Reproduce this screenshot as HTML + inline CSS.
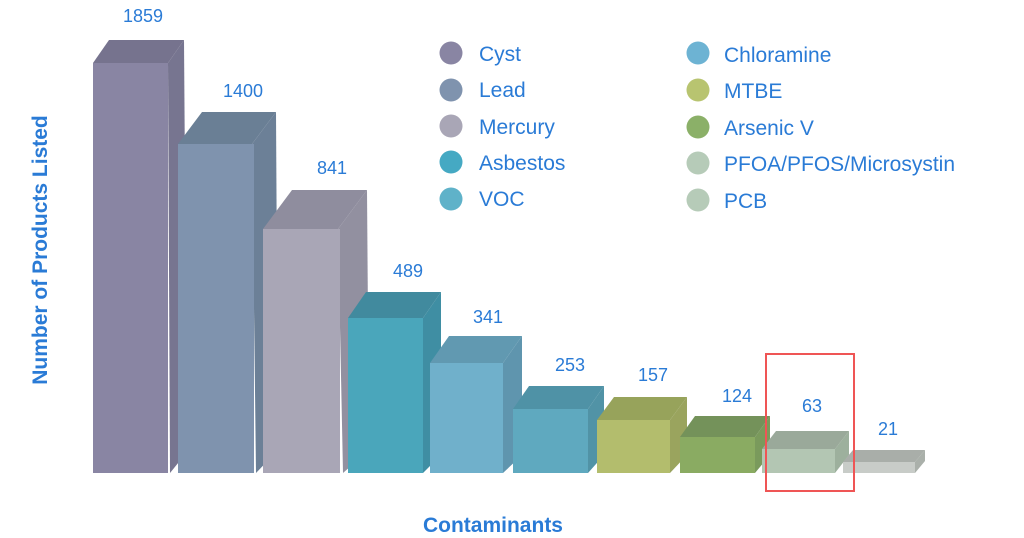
<!DOCTYPE html>
<html><head><style>body{margin:0;background:#fff}svg{display:block}text{font-family:"Liberation Sans",sans-serif;fill:#2a7bd6}</style></head><body>
<svg width="1024" height="538" viewBox="0 0 1024 538">
<g id="bars">
<polygon points="168,63 184,40 187,452 170,473" fill="#777590"/><polygon points="93,63 109,40 184,40 168,63" fill="#76738e"/><rect x="93" y="63" width="75" height="410" fill="#8985a3"/>
<polygon points="252,144 276,112 278,450 256,473" fill="#6c8097"/><polygon points="178,144 202,112 276,112 252,144" fill="#6a7f95"/><rect x="178" y="144" width="76" height="329" fill="#7f93ae"/>
<polygon points="338,229 367,190 369,450 343,473" fill="#9290a0"/><polygon points="263,229 292,190 367,190 338,229" fill="#8f8d9e"/><rect x="263" y="229" width="77" height="244" fill="#a9a6b6"/>
<polygon points="423,318 441,292 441,455 423,473" fill="#3f8ea3"/><polygon points="348,318 366,292 441,292 423,318" fill="#418a9e"/><rect x="348" y="318" width="75" height="155" fill="#4aa6bb"/>
<polygon points="503,363 522,336 522,455 503,473" fill="#5f95ae"/><polygon points="430,363 449,336 522,336 503,363" fill="#6199b1"/><rect x="430" y="363" width="73" height="110" fill="#70b0cb"/>
<polygon points="588,409 604,386 604,455 588,473" fill="#5193a6"/><polygon points="513,409 529,386 604,386 588,409" fill="#4f92a6"/><rect x="513" y="409" width="75" height="64" fill="#5fa9bf"/>
<polygon points="670,420 687,397 687,455 670,473" fill="#9aa45e"/><polygon points="597,420 614,397 687,397 670,420" fill="#97a35b"/><rect x="597" y="420" width="73" height="53" fill="#b3bd6d"/>
<polygon points="755,437 770,416 770,455 755,473" fill="#7a9a5c"/><polygon points="680,437 695,416 770,416 755,437" fill="#74925a"/><rect x="680" y="437" width="75" height="36" fill="#8aab62"/>
<polygon points="835,449 849,431 849,455 835,473" fill="#9db09d"/><polygon points="762,449 776,431 849,431 835,449" fill="#9aa99a"/><rect x="762" y="449" width="73" height="24" fill="#b3c6b3"/>
<polygon points="915,462 925,450 925,461 915,473" fill="#aab0aa"/><polygon points="843,462 853,450 925,450 915,462" fill="#a9aea9"/><rect x="843" y="462" width="72" height="11" fill="#c8ccc8"/>
</g>
<g font-size="18" text-anchor="middle">
<text x="143" y="22">1859</text><text x="243" y="97">1400</text><text x="332" y="174">841</text><text x="408" y="277">489</text><text x="488" y="323">341</text><text x="570" y="371">253</text><text x="653" y="381">157</text><text x="737" y="402">124</text><text x="812" y="412">63</text><text x="888" y="435">21</text>
</g>
<rect x="766" y="354" width="88" height="137" fill="none" stroke="#ef5555" stroke-width="2"/>
<g font-size="21">
<circle cx="451" cy="53" r="11.5" fill="#8985a3"/><text x="479" y="61">Cyst</text>
<circle cx="451" cy="90" r="11.5" fill="#7f93ae"/><text x="479" y="97">Lead</text>
<circle cx="451" cy="126" r="11.5" fill="#a9a6b6"/><text x="479" y="134">Mercury</text>
<circle cx="451" cy="162" r="11.5" fill="#45a9c3"/><text x="479" y="170">Asbestos</text>
<circle cx="451" cy="199" r="11.5" fill="#5fb2c9"/><text x="479" y="206">VOC</text>
<circle cx="698" cy="53" r="11.5" fill="#6db3d3"/><text x="724" y="62">Chloramine</text>
<circle cx="698" cy="90" r="11.5" fill="#b8c470"/><text x="724" y="98">MTBE</text>
<circle cx="698" cy="127" r="11.5" fill="#8bb068"/><text x="724" y="135">Arsenic V</text>
<circle cx="698" cy="163" r="11.5" fill="#b6cbb8"/><text x="724" y="171">PFOA/PFOS/Microsystin</text>
<circle cx="698" cy="200" r="11.5" fill="#b6cbb8"/><text x="724" y="208">PCB</text>
</g>
<text x="493" y="532" font-size="21" font-weight="bold" text-anchor="middle">Contaminants</text>
<text transform="translate(47,250) rotate(-90)" font-size="21" font-weight="bold" text-anchor="middle">Number of Products Listed</text>
</svg>
</body></html>
